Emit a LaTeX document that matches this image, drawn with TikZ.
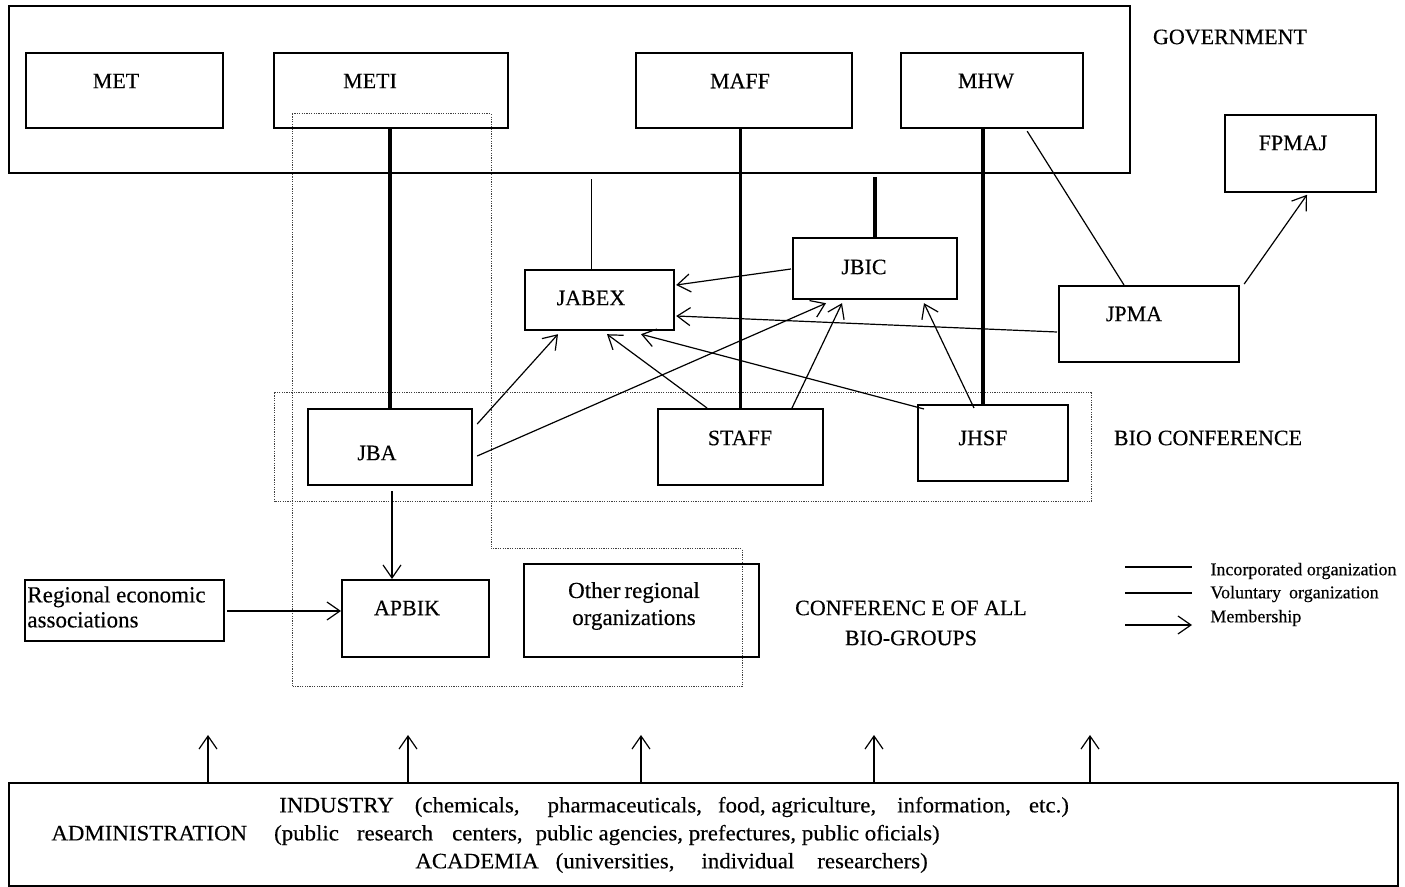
\documentclass[tikz,border=0pt]{standalone}
\usepackage{fontspec}
\setmainfont{Liberation Serif}[FakeBold=0.3]
\newfontfamily\widefont{Liberation Serif}[FakeStretch=1.04,FakeBold=0.3]
\usetikzlibrary{arrows.meta,calc}
\newcommand\hgap[1]{\hspace{#1pt}}
\begin{document}
\begin{tikzpicture}[x=0.5pt,y=-0.5pt,
  box/.style={draw, line width=1.1pt, anchor=north west, inner sep=0pt, rectangle},
  lbl/.style={inner sep=0pt, font=\fontsize{11}{13}\selectfont},
  leg/.style={inner sep=0pt, anchor=west, font=\fontsize{9}{11}\selectfont},
  inc/.style={line width=1.7pt},
  vol/.style={line width=0.6pt},
  memb/.style={line width=0.6pt, -{Straight Barb[length=6.5pt,width=9pt]}},
  dotbox/.style={line width=0.5pt, black!75, dash pattern=on 0.6pt off 0.6pt}]
\useasboundingbox (0,0) rectangle (1405,887);
% dotted groupings
\draw[dotbox] (274,393) rectangle (1091,502);
\draw[dotbox] (292,114) -- (491,114) -- (491,549) -- (742,549) -- (742,687) -- (292,687) -- cycle;
% boxes
\node[box, minimum width=560.5pt, minimum height=83.5pt] (gov) at (8,5) {};
\node[box, minimum width=98.5pt, minimum height=37.5pt] (MET) at (25,52) {};
\node[box, minimum width=117pt, minimum height=37.5pt] (METI) at (273,52) {};
\node[box, minimum width=108pt, minimum height=37.5pt] (MAFF) at (635,52) {};
\node[box, minimum width=91pt, minimum height=37.5pt] (MHW) at (900,52) {};
\node[box, line width=0.9pt, minimum width=75.5pt, minimum height=38.5pt] (FPMAJ) at (1224,114) {};
\node[box, minimum width=74.5pt, minimum height=30pt] (JABEX) at (524,269) {};
\node[box, minimum width=82pt, minimum height=30.5pt] (JBIC) at (792,237) {};
\node[box, minimum width=90pt, minimum height=38pt] (JPMA) at (1058,285) {};
\node[box, minimum width=82pt, minimum height=38pt] (JBA) at (307,408) {};
\node[box, minimum width=82.5pt, minimum height=38pt] (STAFF) at (657,408) {};
\node[box, minimum width=75pt, minimum height=38pt] (JHSF) at (917,404) {};
\node[box, minimum width=99.5pt, minimum height=30.5pt] (regional) at (24,579) {};
\node[box, minimum width=73.5pt, minimum height=38.5pt] (APBIK) at (341,579) {};
\node[box, minimum width=117.5pt, minimum height=46.5pt] (other) at (523,563) {};
\node[box, minimum width=694.5pt, minimum height=51.5pt] (bottom) at (8,782) {};
% labels
\node[lbl] (govt) at (1230,37) {GOVERNMENT};
\node[lbl] (METt) at (116,81) {MET};
\node[lbl] (METIt) at (370,81) {METI};
\node[lbl] (MAFFt) at (740,81) {MAFF};
\node[lbl] (MHWt) at (986,81) {MHW};
\node[lbl] (FPMAJt) at (1293,143) {FPMAJ};
\node[lbl] (JABEXt) at (591,298) {JABEX};
\node[lbl] (JBICt) at (864,267) {JBIC};
\node[lbl] (JPMAt) at (1134,314) {JPMA};
\node[lbl] (JBAt) at (377,453) {JBA};
\node[lbl] (STAFFt) at (740,438) {STAFF};
\node[lbl] (JHSFt) at (983,438) {JHSF};
\node[lbl] (biot) at (1208,438) {BIO\hgap{3}CONFERENCE};
\node[lbl, font=\fontsize{11.5}{12.5}\selectfont, align=left, anchor=west] (regionalt) at (27,607) {Regional economic\\associations};
\node[lbl] (APBIKt) at (407,608) {APBIK};
\node[lbl, font=\fontsize{11.5}{13.5}\selectfont, align=center] (othert) at (634,606) {Other\hgap{2}regional\\organizations};
\node[lbl, align=center, font=\fontsize{11}{15}\selectfont] (conft) at (911,623) {CONFERENC E OF ALL\\BIO-GROUPS};
\node[lbl, anchor=west, font=\widefont\fontsize{11}{13}\selectfont] (line1) at (279,807) {INDUSTRY\hgap{10.5}(chemicals,\hgap{14}pharmaceuticals,\hgap{8}food, agriculture,\hgap{10.5}information,\hgap{9}etc.)};
\node[lbl, anchor=west, font=\widefont\fontsize{11}{13}\selectfont] (line2) at (51,835) {ADMINISTRATION\hgap{13.5}(public\hgap{9}research\hgap{9.5}centers,\hgap{6.5}public agencies, prefectures, public oficials)};
\node[lbl, anchor=west, font=\widefont\fontsize{11}{13}\selectfont] (line3) at (415,863) {ACADEMIA\hgap{8.5}(universities,\hgap{13.5}individual\hgap{11.5}researchers)};
% incorporated links
\coordinate (mhwx) at ($(JHSF.north)+(-10,0)$);
\draw[inc] (JBA.north |- METI.south) -- (JBA.north);
\draw[inc] (STAFF.north |- MAFF.south) -- (STAFF.north);
\draw[inc] (mhwx |- MHW.south) -- (mhwx);
\draw[inc] ($(JBIC.north |- gov.south)+(0,3)$) -- (JBIC.north);
% voluntary links
\coordinate (jabx) at ($(JABEX.north)+(-8,0)$);
\draw[vol] ($(jabx |- gov.south)+(0,5)$) -- (jabx);
\draw[vol] ($(MHW.south east)+(-57,2)$) -- ($(JPMA.north west)+(66,0)$);
% membership
\draw[memb] ($(JBIC.north west)+(-1,32)$) -- ($(JABEX.north east)+(1,16)$);
\draw[memb] ($(JPMA.north west)+(-1,47)$) -- ($(JABEX.north east)+(1,47)$);
\draw[memb] ($(JBA.north east)+(4,16)$) -- ($(JABEX.south west)+(34,3)$);
\draw[memb] ($(JBA.north east)+(4,48)$) -- ($(JBIC.south west)+(34,3)$);
\draw[memb] ($(STAFF.north west)+(50,0)$) -- ($(JABEX.south west)+(83,3)$);
\draw[memb] ($(STAFF.north west)+(135,0)$) -- ($(JBIC.south west)+(50,3)$);
\draw[memb] ($(JHSF.north west)+(7,5)$) -- ($(JABEX.south west)+(117,3)$);
\draw[memb] ($(JHSF.north west)+(57,4)$) -- ($(JBIC.south west)+(132,3)$);
\draw[memb] ($(JPMA.north east)+(4,-1)$) -- ($(FPMAJ.south west)+(83,2)$);
\draw[memb] ($(JBA.south west)+(85,5)$) -- ($(APBIK.north west)+(51,0)$);
\draw[memb] ($(regional.north east)+(2,32)$) -- ($(APBIK.north west)+(0,32)$);
\foreach \x in {200,400,633,866,1082}
  \draw[memb] ($(bottom.north west)+(\x,0)$) -- ++(0,-47);
% legend
\coordinate (la1) at (1125,567); \coordinate (lb1) at (1192,567);
\coordinate (la2) at (1125,593); \coordinate (lb2) at (1192,593);
\coordinate (la3) at (1125,625); \coordinate (lb3) at (1192,625);
\draw[inc, line width=1.4pt] (la1) -- (lb1);
\draw[vol] (la2) -- (lb2);
\draw[memb] (la3) -- (lb3);
\node[leg] (leg1) at (1210,571) {Incorporated organization};
\node[leg] (leg2) at (1210,594) {Voluntary\hgap{4}organization};
\node[leg] (leg3) at (1210,618) {Membership};
\end{tikzpicture}
\end{document}
